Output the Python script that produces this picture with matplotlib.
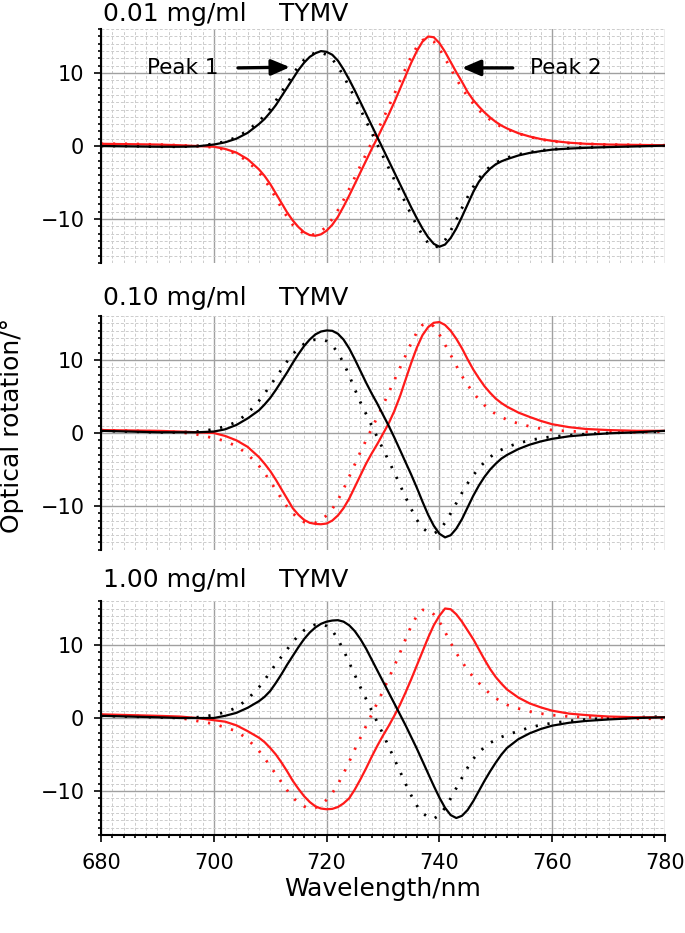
import matplotlib
matplotlib.use("Agg")
import matplotlib.pyplot as plt
import matplotlib.ticker as mticker

# wavelength grid (nm) shared by all curves
wl = [680, 685, 690, 694, 697, 700, 702, 704, 706, 708,
      709, 710, 711, 712, 713, 714, 715, 716, 717, 718,
      719, 720, 721, 722, 723, 724, 725, 726, 727, 728,
      729, 730, 731, 732, 733, 734, 735, 736, 737, 738,
      739, 740, 741, 742, 743, 744, 745, 746, 747, 748,
      749, 750, 751, 752, 754, 756, 758, 760, 763, 766, 770, 775, 780]

# 0.01 mg/ml  (b = black, r = red, d = dotted)
b1 = [0.0, -0.05, -0.1, -0.1, -0.05, 0.2, 0.5, 1.0, 1.8, 3.0,
      3.7, 4.6, 5.6, 6.8, 8.0, 9.2, 10.4, 11.4, 12.2, 12.7,
      13.0, 12.9, 12.5, 11.7, 10.5, 9.1, 7.6, 6.0, 4.4, 2.8,
      1.2, -0.4, -2.0, -3.6, -5.2, -6.8, -8.4, -9.9, -11.3, -12.5,
      -13.4, -13.8, -13.5, -12.6, -11.3, -9.7, -8.0, -6.3, -4.9, -3.9,
      -3.1, -2.5, -2.1, -1.8, -1.3, -0.95, -0.7, -0.5, -0.35, -0.25, -0.15, -0.05, 0.05]
r1 = [0.3, 0.25, 0.2, 0.1, 0.0, -0.1, -0.4, -0.9, -1.8, -3.2,
      -4.1, -5.2, -6.5, -7.8, -9.1, -10.2, -11.1, -11.8, -12.2, -12.3,
      -12.1, -11.6, -10.8, -9.7, -8.3, -6.8, -5.2, -3.6, -2.0, -0.4,
      1.1, 2.7, 4.3, 6.0, 7.8, 9.6, 11.4, 13.0, 14.3, 15.0,
      14.9, 14.1, 12.9, 11.5, 10.1, 8.8, 7.4, 6.3, 5.4, 4.6,
      3.9, 3.3, 2.8, 2.4, 1.75, 1.3, 0.95, 0.7, 0.45, 0.3, 0.2, 0.15, 0.1]
b1d = [0.0, 0.0, -0.1, -0.1, 0.0, 0.3, 0.6, 1.2, 2.1, 3.4,
       4.2, 5.1, 6.2, 7.4, 8.6, 9.8, 10.9, 11.8, 12.4, 12.8,
       12.8, 12.5, 11.9, 10.9, 9.6, 8.1, 6.6, 5.0, 3.4, 1.8,
       0.2, -1.4, -3.0, -4.6, -6.2, -7.8, -9.4, -10.9, -12.2, -13.3,
       -13.9, -13.7, -12.9, -11.6, -10.1, -8.5, -7.0, -5.6, -4.4, -3.5,
       -2.8, -2.3, -1.9, -1.6, -1.15, -0.85, -0.6, -0.45, -0.3, -0.2, -0.1, 0.0, 0.05]
r1d = [0.3, 0.3, 0.2, 0.1, 0.0, -0.2, -0.5, -1.1, -2.1, -3.6,
       -4.6, -5.8, -7.1, -8.5, -9.7, -10.8, -11.5, -12.0, -12.2, -12.1,
       -11.7, -11.0, -10.0, -8.8, -7.4, -5.9, -4.3, -2.7, -1.1, 0.5,
       2.1, 3.7, 5.4, 7.1, 8.9, 10.6, 12.2, 13.6, 14.5, 14.7,
       14.3, 13.3, 12.0, 10.6, 9.2, 7.9, 6.8, 5.8, 4.9, 4.2,
       3.6, 3.1, 2.6, 2.3, 1.7, 1.25, 0.9, 0.65, 0.4, 0.3, 0.2, 0.15, 0.1]

# 0.10 mg/ml
b2 = [0.3, 0.2, 0.1, 0.1, 0.1, 0.2, 0.5, 1.1, 2.0, 3.1,
      3.9, 4.8, 5.9, 7.1, 8.3, 9.6, 10.8, 11.9, 12.8, 13.5,
      13.9, 14.05, 14.0, 13.6, 12.8, 11.6, 10.1, 8.5, 6.9, 5.4,
      4.0, 2.5, 1.0, -0.6, -2.3, -4.0, -5.7, -7.5, -9.4, -11.2,
      -12.7, -13.8, -14.3, -14.0, -13.1, -11.8, -10.2, -8.6, -7.2, -6.0,
      -5.0, -4.2, -3.5, -3.0, -2.2, -1.6, -1.15, -0.8, -0.45, -0.25, -0.05, 0.1, 0.3]
r2 = [0.4, 0.35, 0.3, 0.2, 0.1, 0.0, -0.4, -1.0, -1.9, -3.3,
      -4.2, -5.2, -6.4, -7.7, -9.0, -10.3, -11.2, -11.9, -12.3, -12.45,
      -12.5, -12.4, -12.0, -11.3, -10.3, -9.0, -7.4, -5.8, -4.2, -2.8,
      -1.5, -0.1, 1.3, 3.0, 5.0, 7.3, 9.6, 11.7, 13.4, 14.5,
      15.1, 15.2, 14.8, 14.0, 12.9, 11.6, 10.1, 8.7, 7.5, 6.4,
      5.5, 4.7, 4.1, 3.6, 2.8, 2.2, 1.65, 1.2, 0.8, 0.55, 0.4, 0.3, 0.3]
b2d = [0.3, 0.2, 0.1, 0.1, 0.2, 0.5, 0.9, 1.5, 2.7, 4.4,
       5.4, 6.5, 7.6, 8.7, 9.8, 10.8, 11.6, 12.2, 12.6, 12.8,
       12.8, 12.6, 12.0, 11.0, 9.6, 7.9, 6.0, 4.2, 2.6, 1.0,
       -0.6, -2.2, -3.8, -5.4, -7.1, -8.8, -10.4, -11.9, -13.0, -13.6,
       -13.8, -13.3, -12.3, -11.0, -9.6, -8.2, -6.9, -5.8, -4.8, -4.0,
       -3.3, -2.7, -2.3, -1.9, -1.4, -1.0, -0.7, -0.5, -0.3, -0.15, 0.0, 0.1, 0.2]
r2d = [0.4, 0.3, 0.2, 0.1, -0.2, -0.7, -1.1, -1.8, -2.9, -4.5,
       -5.5, -6.6, -7.8, -9.0, -10.1, -11.0, -11.7, -12.2, -12.4, -12.3,
       -11.9, -11.3, -10.4, -9.2, -7.7, -6.0, -4.3, -2.6, -1.0, 0.6,
       2.2, 3.8, 5.5, 7.2, 8.9, 10.6, 12.3, 13.8, 14.8, 15.1,
       14.6, 13.5, 12.1, 10.7, 9.2, 7.8, 6.6, 5.5, 4.6, 3.8,
       3.1, 2.6, 2.2, 1.8, 1.3, 0.9, 0.6, 0.4, 0.25, 0.15, 0.1, 0.1, 0.2]

# 1.00 mg/ml
b3 = [0.3, 0.2, 0.1, 0.0, 0.0, 0.0, 0.3, 0.7, 1.4, 2.3,
      2.9, 3.7, 4.8, 6.0, 7.3, 8.5, 9.7, 10.8, 11.7, 12.4,
      12.9, 13.2, 13.35, 13.4, 13.2, 12.7, 11.9, 10.8, 9.5, 8.0,
      6.5, 5.0, 3.5, 2.0, 0.5, -1.0, -2.6, -4.2, -5.9, -7.6,
      -9.3, -10.9, -12.3, -13.3, -13.7, -13.4, -12.6, -11.4, -10.0, -8.6,
      -7.3, -6.1, -5.0, -4.1, -2.9, -2.1, -1.5, -1.05, -0.65, -0.4, -0.2, 0.0, 0.1]
r3 = [0.5, 0.4, 0.3, 0.2, 0.0, -0.3, -0.5, -1.0, -1.8, -2.7,
      -3.3, -4.1, -5.0, -6.1, -7.3, -8.6, -9.7, -10.7, -11.5, -12.1,
      -12.4, -12.5, -12.45, -12.2, -11.7, -11.0, -9.8, -8.4, -6.9, -5.3,
      -3.8, -2.4, -1.1, 0.3, 1.8, 3.5, 5.3, 7.2, 9.1, 11.0,
      12.7, 14.0, 15.0, 14.9, 14.2, 13.2, 12.0, 10.8, 9.4, 8.0,
      6.7, 5.6, 4.7, 3.9, 2.8, 2.0, 1.45, 1.0, 0.6, 0.4, 0.2, 0.1, 0.1]
b3d = [0.3, 0.2, 0.1, 0.0, 0.1, 0.4, 0.8, 1.4, 2.6, 4.2,
       5.2, 6.3, 7.4, 8.4, 9.4, 10.4, 11.3, 12.0, 12.5, 12.8,
       12.9, 12.6, 12.0, 10.8, 9.3, 7.6, 5.9, 4.2, 2.6, 1.0,
       -0.6, -2.2, -3.9, -5.6, -7.3, -9.0, -10.6, -12.0, -13.0, -13.6,
       -13.8, -13.3, -12.3, -11.0, -9.6, -8.2, -6.8, -5.6, -4.7, -4.0,
       -3.4, -3.0, -2.6, -2.3, -1.8, -1.3, -0.95, -0.7, -0.4, -0.2, 0.0, 0.1, 0.2]
r3d = [0.4, 0.3, 0.2, 0.0, -0.4, -0.8, -1.3, -1.8, -2.9, -4.5,
       -5.5, -6.6, -7.7, -8.8, -9.9, -10.9, -11.6, -12.1, -12.4, -12.3,
       -11.9, -11.2, -10.3, -9.1, -7.6, -6.0, -4.3, -2.7, -1.1, 0.5,
       2.1, 3.7, 5.4, 7.1, 8.9, 10.8, 12.6, 14.0, 14.8, 14.8,
       14.2, 13.2, 11.8, 10.3, 8.9, 7.7, 6.6, 5.6, 4.8, 4.0,
       3.3, 2.7, 2.2, 1.8, 1.3, 0.9, 0.6, 0.4, 0.2, 0.1, 0.0, -0.1, -0.1]

concs = ["0.01 mg/ml", "0.10 mg/ml", "1.00 mg/ml"]
panels = [(b1, r1, b1d, r1d), (b2, r2, b2d, r2d), (b3, r3, b3d, r3d)]

W, H = 685, 933
fig = plt.figure(figsize=(W / 100, H / 100), dpi=100)

left, width = 101 / W, 564 / W
tops = [29.2, 316.2, 601.2]      # top of each panel in pixels
ph = 233.6
title_base = [21, 305, 587]
RED = '#ff1a1a'
dots = (0, (0.8, 3.5))

for i, (blk, red, blkd, redd) in enumerate(panels):
    ax = fig.add_axes([left, 1 - (tops[i] + ph) / H, width, ph / H])
    ax.set_xlim(680, 780)
    ax.set_ylim(-16, 16)

    # grid
    ax.xaxis.set_major_locator(mticker.MultipleLocator(20))
    ax.xaxis.set_minor_locator(mticker.MultipleLocator(2))
    ax.yaxis.set_major_locator(mticker.FixedLocator([-10, 0, 10]))
    ax.yaxis.set_minor_locator(mticker.MultipleLocator(1))
    ax.grid(which='minor', color='#cccccc', lw=0.7, ls=(0, (3, 2)))
    ax.grid(which='major', color='#a0a0a0', lw=1.0, ls='-')
    ax.set_axisbelow(True)

    # curves
    ax.plot(wl, redd, color=RED, lw=2.0, ls=dots)
    ax.plot(wl, blkd, color='black', lw=2.0, ls=dots)
    ax.plot(wl, red, color=RED, lw=1.6)
    ax.plot(wl, blk, color='black', lw=1.6)

    for s in ['top', 'right']:
        ax.spines[s].set_visible(False)
    ax.spines['left'].set_linewidth(1.5)
    ax.tick_params(axis='y', which='major', direction='out', length=5, width=1.2,
                   labelsize=15, pad=7)
    ax.tick_params(axis='y', which='minor', direction='out', length=2.5, width=1.2)
    if i < 2:
        ax.spines['bottom'].set_visible(False)
        ax.tick_params(axis='x', which='both', length=0, labelbottom=False)
    else:
        ax.spines['bottom'].set_linewidth(1.5)
        ax.tick_params(axis='x', which='major', direction='out', length=5, width=1.2,
                       labelsize=15, pad=8)
        ax.tick_params(axis='x', which='minor', direction='out', length=2.5, width=1.2)
        ax.set_xlabel('Wavelength/nm', fontsize=18, labelpad=3)

    fig.text(103 / W, 1 - title_base[i] / H, concs[i], fontsize=18, va='baseline', ha='left')
    fig.text(279 / W, 1 - title_base[i] / H, 'TYMV', fontsize=18, va='baseline', ha='left')

    if i == 0:
        arrow = dict(arrowstyle='-|>,head_length=0.7,head_width=0.3', lw=2.4, color='black',
                     mutation_scale=16, shrinkA=0, shrinkB=0)
        ax.annotate('', xy=(713.5, 10.8), xytext=(704.3, 10.7), arrowprops=arrow)
        ax.text(688.2, 10.75, 'Peak 1', fontsize=15.5, va='center', ha='left')
        ax.annotate('', xy=(744.0, 10.7), xytext=(753.0, 10.7), arrowprops=arrow)
        ax.text(756.1, 10.75, 'Peak 2', fontsize=15.5, va='center', ha='left')

fig.text(12 / W, 1 - 425 / H, 'Optical rotation/°', fontsize=18, rotation=90,
         va='center', ha='center')

fig.savefig('out.png', dpi=100)
